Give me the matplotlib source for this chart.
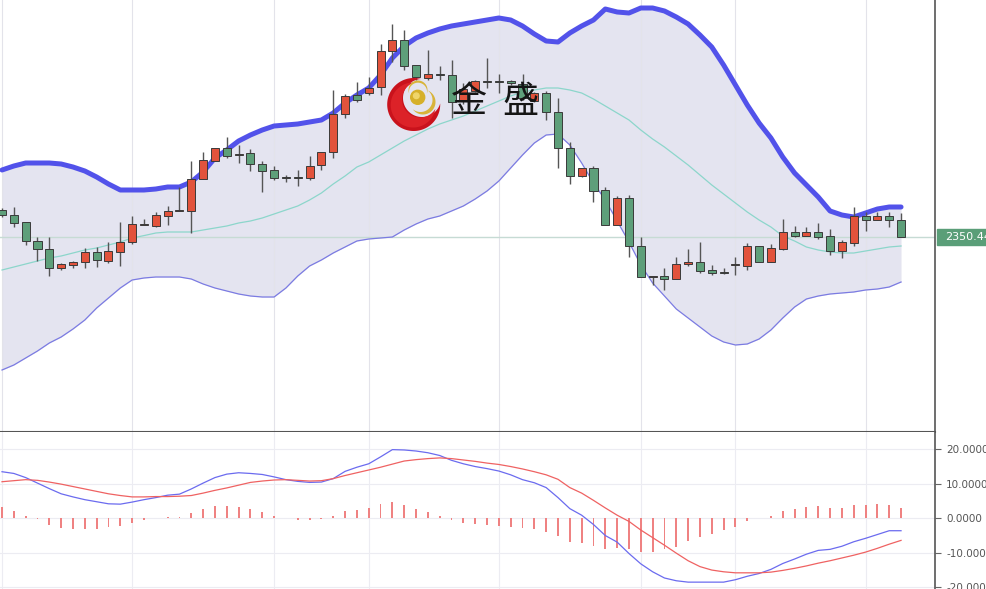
import matplotlib
matplotlib.use('Agg')
import matplotlib.pyplot as plt
import numpy as np
from matplotlib.patches import Rectangle, Circle
from matplotlib.ticker import FuncFormatter
from matplotlib.transforms import blended_transform_factory

# ---- candle data (one bar per hour) ----
opens = [2363.9, 2361.4, 2357.9, 2348.4, 2344.4, 2334.9, 2336.4, 2337.9, 2342.9, 2338.4,
         2342.9, 2347.9, 2356.4, 2355.9, 2360.9, 2363.2, 2363.4, 2379.4, 2388.4, 2394.9,
         2391.4, 2392.4, 2386.9, 2383.9, 2380.4, 2380.2, 2379.9, 2386.4, 2392.9, 2411.9,
         2421.4, 2422.4, 2425.4, 2443.4, 2448.9, 2436.4, 2429.9, 2431.9, 2431.4, 2418.9,
         2423.4, 2428.4, 2428.4, 2428.4, 2426.9, 2418.4, 2422.4, 2412.9, 2394.9, 2380.9,
         2384.9, 2373.9, 2356.4, 2369.9, 2345.9, 2330.4, 2330.9, 2329.4, 2336.9, 2337.9,
         2333.9, 2332.9, 2336.4, 2335.9, 2345.9, 2337.9, 2344.4, 2352.9, 2350.9, 2352.9,
         2350.9, 2343.4, 2347.4, 2360.9, 2358.9, 2360.9, 2358.9]
highs = [2364.9, 2365.4, 2357.9, 2350.4, 2350.4, 2337.4, 2338.4, 2344.9, 2345.4, 2347.9,
         2357.9, 2360.9, 2359.4, 2362.9, 2365.9, 2375.4, 2388.4, 2392.9, 2394.9, 2400.4,
         2396.4, 2394.4, 2388.4, 2385.9, 2381.4, 2383.9, 2390.9, 2392.9, 2423.9, 2421.9,
         2427.9, 2430.4, 2446.9, 2456.9, 2453.9, 2436.4, 2443.9, 2435.9, 2438.9, 2427.4,
         2428.9, 2439.9, 2431.9, 2428.9, 2431.9, 2422.9, 2423.4, 2419.9, 2397.9, 2384.9,
         2385.9, 2375.4, 2370.9, 2371.4, 2350.4, 2330.9, 2334.9, 2340.4, 2344.4, 2347.9,
         2336.4, 2334.9, 2340.4, 2347.4, 2345.9, 2346.9, 2359.4, 2355.9, 2355.4, 2357.4,
         2354.4, 2348.9, 2365.4, 2362.9, 2362.9, 2362.9, 2362.4]
lows = [2360.4, 2355.4, 2346.4, 2338.4, 2330.9, 2333.9, 2334.9, 2334.9, 2335.4, 2337.4,
        2335.9, 2346.9, 2356.4, 2355.4, 2356.4, 2363.2, 2352.4, 2379.4, 2388.4, 2389.9,
        2387.4, 2383.4, 2372.9, 2378.9, 2377.9, 2375.9, 2378.9, 2383.9, 2389.9, 2409.9,
        2417.9, 2421.4, 2421.4, 2437.9, 2433.9, 2428.9, 2428.9, 2428.9, 2409.9, 2416.9,
        2422.9, 2424.9, 2422.4, 2426.4, 2418.9, 2417.9, 2408.9, 2384.9, 2376.9, 2380.4,
        2367.9, 2356.4, 2356.4, 2340.4, 2330.4, 2326.4, 2323.9, 2329.4, 2335.9, 2332.4,
        2331.4, 2331.9, 2331.4, 2333.9, 2337.9, 2337.9, 2343.9, 2350.4, 2350.9, 2349.4,
        2341.4, 2339.9, 2345.9, 2353.4, 2358.9, 2355.4, 2350.4]
closes = [2361.4, 2357.4, 2348.4, 2344.4, 2334.9, 2336.9, 2337.9, 2342.9, 2338.9, 2343.4,
          2347.9, 2356.9, 2356.9, 2361.4, 2363.4, 2363.4, 2379.4, 2388.9, 2394.9, 2390.9,
          2391.9, 2386.9, 2383.4, 2379.9, 2379.9, 2379.7, 2385.9, 2392.9, 2411.9, 2420.9,
          2418.9, 2424.9, 2443.4, 2448.9, 2435.9, 2430.4, 2431.9, 2431.4, 2417.9, 2424.4,
          2428.4, 2427.9, 2427.9, 2427.4, 2419.9, 2422.4, 2412.9, 2394.9, 2380.9, 2384.9,
          2373.4, 2356.4, 2369.9, 2345.9, 2330.4, 2330.9, 2329.4, 2336.9, 2337.9, 2333.4,
          2332.4, 2332.4, 2336.9, 2345.9, 2337.9, 2344.9, 2352.9, 2350.9, 2352.9, 2350.4,
          2343.4, 2347.9, 2360.9, 2358.9, 2360.9, 2358.9, 2350.44]

# ---- bollinger bands ----
boll_upper = [2383.9, 2385.9, 2387.4, 2387.4, 2387.4, 2386.9, 2385.4, 2383.4, 2380.4, 2376.9,
              2373.9, 2373.9, 2373.9, 2374.4, 2375.4, 2375.4, 2377.9, 2382.9, 2389.9, 2393.9,
              2398.4, 2401.4, 2403.9, 2405.9, 2406.4, 2406.9, 2407.9, 2408.9, 2412.4, 2417.4,
              2421.4, 2424.9, 2431.4, 2439.9, 2445.9, 2449.9, 2452.4, 2454.4, 2455.9, 2456.9,
              2457.9, 2458.9, 2459.9, 2458.9, 2455.9, 2451.9, 2448.4, 2447.9, 2452.4, 2455.9,
              2458.9, 2464.4, 2462.9, 2462.4, 2464.9, 2464.9, 2463.4, 2460.4, 2456.9, 2451.4,
              2445.4, 2436.4, 2426.4, 2416.4, 2407.4, 2399.9, 2390.4, 2382.4, 2376.4, 2370.4,
              2363.4, 2361.4, 2360.4, 2362.4, 2364.4, 2365.4, 2365.4]
boll_mid = [2333.9, 2335.4, 2336.9, 2338.4, 2339.9, 2340.9, 2342.4, 2343.9, 2344.9, 2346.4,
            2347.9, 2349.9, 2351.1, 2352.4, 2352.9, 2352.9, 2352.9, 2353.9, 2354.9, 2355.9,
            2357.4, 2358.4, 2359.9, 2361.9, 2363.9, 2365.9, 2368.9, 2372.4, 2376.9, 2380.9,
            2385.4, 2387.9, 2391.4, 2394.9, 2398.4, 2401.4, 2404.4, 2406.9, 2408.9, 2410.9,
            2413.4, 2415.9, 2418.4, 2420.9, 2422.9, 2423.9, 2424.9, 2424.9, 2423.9, 2422.4,
            2419.4, 2415.9, 2412.4, 2408.9, 2403.9, 2399.4, 2395.4, 2390.9, 2386.4, 2381.4,
            2376.4, 2371.9, 2367.4, 2362.9, 2358.9, 2355.4, 2350.9, 2348.4, 2345.4, 2343.9,
            2342.9, 2342.4, 2342.4, 2343.4, 2344.4, 2345.4, 2345.9]
boll_lower = [2283.9, 2286.4, 2289.9, 2293.4, 2297.4, 2300.4, 2304.4, 2308.9, 2314.9, 2319.9,
              2324.9, 2328.9, 2329.9, 2330.4, 2330.4, 2330.4, 2329.4, 2326.9, 2324.9, 2323.4,
              2321.9, 2320.9, 2320.4, 2320.4, 2324.9, 2330.9, 2335.9, 2338.9, 2342.4, 2345.4,
              2348.4, 2349.4, 2349.9, 2350.4, 2353.9, 2356.9, 2359.4, 2360.9, 2363.4, 2365.9,
              2369.4, 2373.4, 2378.4, 2384.9, 2391.4, 2397.4, 2401.4, 2401.9, 2396.4, 2387.4,
              2377.4, 2368.9, 2358.4, 2347.9, 2336.4, 2327.4, 2320.9, 2314.4, 2309.9, 2305.4,
              2300.9, 2297.9, 2296.4, 2296.9, 2299.4, 2303.9, 2309.9, 2315.4, 2319.4, 2320.9,
              2321.9, 2322.4, 2322.9, 2323.9, 2324.4, 2325.4, 2327.9]

# ---- MACD ----
dif = [13.5, 13.0, 11.8, 10.2, 8.6, 7.1, 6.2, 5.4, 4.8, 4.2,
       4.1, 4.7, 5.4, 6.0, 6.7, 7.0, 8.5, 10.2, 11.8, 12.8,
       13.2, 13.0, 12.7, 12.0, 11.2, 10.7, 10.4, 10.5, 11.5, 13.6,
       14.8, 15.8, 17.8, 19.9, 19.8, 19.5, 19.0, 18.2, 16.8, 15.8,
       15.0, 14.4, 13.7, 12.6, 11.2, 10.3, 8.9, 6.0, 2.8, 0.9,
       -1.8, -5.0, -6.9, -10.2, -13.2, -15.5, -17.3, -18.1, -18.5, -18.5,
       -18.5, -18.5, -17.8, -16.8, -16.0, -14.8, -13.1, -11.8, -10.4, -9.3,
       -9.0, -8.1, -6.8, -5.8, -4.7, -3.6, -3.6]
dea = [10.6, 10.9, 11.2, 11.0, 10.5, 9.9, 9.2, 8.5, 7.8, 7.1,
       6.6, 6.2, 6.2, 6.3, 6.3, 6.4, 6.6, 7.3, 8.1, 8.8,
       9.6, 10.4, 10.8, 11.1, 11.2, 11.0, 10.8, 10.9, 11.5, 12.4,
       13.2, 14.0, 14.8, 15.7, 16.6, 17.0, 17.3, 17.5, 17.3, 16.9,
       16.5, 16.0, 15.6, 15.0, 14.3, 13.5, 12.6, 11.3, 8.9, 7.3,
       5.2, 3.0, 0.9, -0.9, -3.4, -5.6, -7.8, -10.1, -12.3, -14.0,
       -15.0, -15.5, -15.8, -15.8, -15.8, -15.6, -15.1, -14.5, -13.8, -13.0,
       -12.3, -11.5, -10.7, -9.8, -8.7, -7.5, -6.4]
macd_hist = [3.4, 2.1, 0.8, -0.3, -1.9, -2.7, -3.2, -3.1, -3.1, -2.6,
             -2.1, -1.5, -0.4, 0.05, 0.4, 0.4, 1.5, 2.7, 3.6, 3.6,
             3.3, 2.7, 1.8, 0.8, 0.0, -0.4, -0.4, -0.3, 0.8, 2.1,
             2.4, 3.1, 4.2, 4.6, 3.9, 2.6, 1.7, 0.8, -0.5, -1.5,
             -1.7, -1.9, -2.2, -2.4, -2.9, -3.2, -3.9, -5.0, -7.0, -7.1,
             -7.9, -8.9, -8.5, -8.9, -9.7, -9.7, -9.0, -8.2, -6.5, -5.3,
             -4.5, -3.4, -2.4, -0.8, 0.0, 0.8, 2.1, 2.7, 3.3, 3.6,
             3.1, 3.1, 3.9, 3.9, 4.2, 3.9, 2.9]

grid_bars = [0, 11, 23, 31, 42, 54, 62, 73]   # day separators
macd_ticks = [-20, -10, 0, 10, 20]

W, H = 987, 589
fig = plt.figure(figsize=(W / 100, H / 100), dpi=100)
ax = fig.add_axes([0, 157 / H, 935 / W, 432 / H])
ax2 = fig.add_axes([0, 0, 935 / W, 157 / H])

o = np.array(opens); c = np.array(closes)
hi = np.array(highs); lo = np.array(lows)
x = np.arange(len(c))

## price panel
ax.fill_between(x, boll_lower, boll_upper, color='#e4e4f0', lw=0, zorder=1)
for g in grid_bars:
    ax.axvline(g, color='#e3e3ea', lw=0.8, zorder=1.5)
    ax2.axvline(g, color='#ececf2', lw=0.8, zorder=0)
ax.axhline(closes[-1], color='#c6dbd4', lw=1, zorder=1.6)
ax.plot(x, boll_upper, color='#5252ea', lw=3.6, zorder=2.5, solid_capstyle='round')
ax.plot(x, boll_lower, color='#7b7be2', lw=0.9, zorder=2.5)
ax.plot(x, boll_mid, color='#8cd6cb', lw=0.9, zorder=2.5)

up = c >= o
colors = np.where(up, '#e2533c', '#5e9f7a')
ax.vlines(x, lo, hi, color='#555555', lw=1, zorder=3)
ax.bar(x, np.maximum(np.abs(c - o), 0.6), bottom=np.minimum(o, c), width=0.68,
       color=colors, edgecolor='#3a3a3a', linewidth=0.7, zorder=4)

ax.set_xlim(-0.17, 78.87)
ax.set_ylim(2252.9, 2468.9)
ax.set_xticks([]); ax.set_yticks([])
for s in ['top', 'left']:
    ax.spines[s].set_visible(False)
ax.spines['right'].set_color('#555555'); ax.spines['right'].set_linewidth(1.2)
ax.spines['bottom'].set_color('#555555'); ax.spines['bottom'].set_linewidth(1.5)

# last price tag on the right axis
tr = blended_transform_factory(ax.transAxes, ax.transData)
ax.add_patch(Rectangle((1.002, closes[-1] - 4), 0.07, 8, transform=tr, color='#5a9e78',
                       clip_on=False, zorder=6))
ax.text(1.011, closes[-1], f'{closes[-1]:.2f}', transform=tr, ha='left', va='center',
        color='white', fontsize=8, zorder=7, clip_on=False)

# watermark logo
ax.text(469 / 935, 1 - 102 / 432, '金', transform=ax.transAxes, ha='center', va='center',
        fontsize=26, color='#151515', family=['Noto Sans CJK SC', 'DejaVu Sans'], zorder=10)
ax.text(520 / 935, 1 - 102 / 432, '盛', transform=ax.transAxes, ha='center', va='center',
        fontsize=26, color='#151515', family=['Noto Sans CJK SC', 'DejaVu Sans'], zorder=10)


def crescent(a, c_out, r_out, c_in, r_in, color):
    phi = np.arctan2(c_in[1] - c_out[1], c_in[0] - c_out[0])
    t = phi + np.pi + np.linspace(-np.pi, np.pi, 721)
    ox = c_out[0] + r_out * np.cos(t); oy = c_out[1] + r_out * np.sin(t)
    ix = c_in[0] + r_in * np.cos(t); iy = c_in[1] + r_in * np.sin(t)
    ko = np.hypot(ox - c_in[0], oy - c_in[1]) > r_in
    ki = np.hypot(ix - c_out[0], iy - c_out[1]) < r_out
    a.fill(np.concatenate([ox[ko], ix[ki][::-1]]), np.concatenate([oy[ko], iy[ki][::-1]]),
           color=color, lw=0)


lax = fig.add_axes([380 / W, (H - 136) / H, 70 / W, 70 / H], zorder=5)
lax.set_xlim(0, 70); lax.set_ylim(0, 70); lax.axis('off')
crescent(lax, (33.7, 31.5), 26.5, (42, 38), 19, '#c9121c')
crescent(lax, (33.2, 31.0), 22.5, (40, 36.5), 18, '#dc2228')
crescent(lax, (43, 34), 12.5, (40.5, 36), 12, '#d8b43a')
crescent(lax, (38, 46), 9.5, (38, 44.3), 9, '#d8b43a')
lax.add_patch(Circle((37.7, 38.7), 7, color='#d6b02a'))
lax.add_patch(Circle((36.3, 40.2), 2.8, color='#efd56a'))

## MACD panel
ax2.bar(x, macd_hist, width=0.16, color='#ef8282', zorder=3)
ax2.plot(x, dif, color='#6b6bef', lw=0.9, zorder=4)
ax2.plot(x, dea, color='#ef6262', lw=0.9, zorder=4)
ax2.set_xlim(-0.17, 78.87)
ax2.set_ylim(-20.49, 25.01)
ax2.set_xticks([])
ax2.set_yticks(macd_ticks)
ax2.yaxis.tick_right()
ax2.yaxis.set_major_formatter(FuncFormatter(lambda v, p: f'{v:.4f}'))
ax2.grid(axis='y', color='#ececf2', lw=0.8, zorder=0)
ax2.tick_params(axis='y', length=4, width=0.8, color='#666666', labelsize=7.5,
                labelcolor='#555555', pad=4)
for s in ['top', 'left', 'bottom']:
    ax2.spines[s].set_visible(False)
ax2.spines['right'].set_color('#555555'); ax2.spines['right'].set_linewidth(1.2)

fig.savefig('out.png', dpi=100)
